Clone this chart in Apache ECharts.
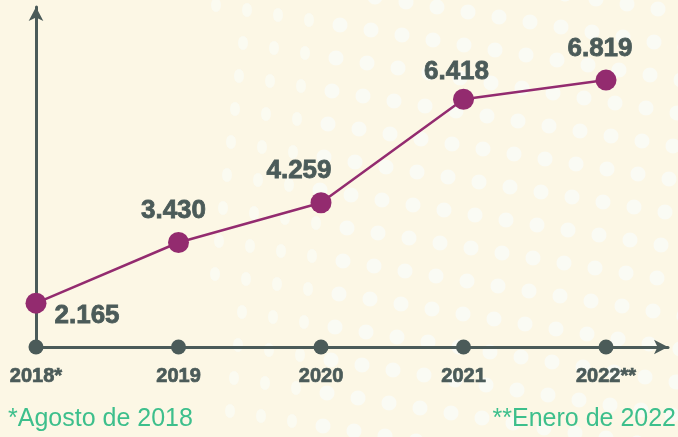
<!DOCTYPE html>
<html>
<head>
<meta charset="utf-8">
<script src="https://cdn.jsdelivr.net/npm/echarts@6/dist/echarts.min.js"></script>
<style>
	html, body { margin: 0; padding: 0; background: #fcf7e5; }
	#chart { width: 678px; height: 437px; }
</style>
</head>
<body>
<div id="chart"></div>
<script>
	var years = ['2018*', '2019', '2020', '2021', '2022**'];
	var values = [2.165, 3.430, 4.259, 6.418, 6.819];
	var labels = ['2.165', '3.430', '4.259', '6.418', '6.819'];
	var notes = ['*Agosto de 2018', '**Enero de 2022'];

	var axisColor = '#4b5b59';
	var lineColor = '#932b6f';
	var noteColor = '#3dbf8c';
	var yMin = 1.25;
	var font = 'Liberation Sans, Arial, sans-serif';

	// label placement for each point
	var labelStyle = [
		{ position: 'right', offset: [0, 13] },
		{ position: 'top', offset: [-5, 0] },
		{ position: 'top', offset: [-22, 0] },
		{ position: 'top', offset: [-7, 4] },
		{ position: 'top', offset: [-6, 0] }
	];

	var pointData = [];
	var baseData = [];
	for (var i = 0; i < values.length; i++) {
		pointData.push({
			value: [i, values[i]],
			label: labelStyle[i]
		});
		baseData.push([i, yMin]);
	}

	// decorative dot pattern (slightly rotated grid)
	var dots = [];
	for (var r = -2; r < 16; r++) {
		for (var c = 0; c < 18; c++) {
			var x = 220 + c * 31 - r * 4;
			var y = 12 + r * 33 + c * 5 - 40;
			if (x < 215 || x > 690 || y < -10 || y > 445) continue;
			var small = x < 320;
			dots.push({
				type: 'ellipse',
				silent: true,
				z: -10,
				shape: { cx: x, cy: y, rx: small ? 5 : 7.5, ry: small ? 7 : 7.5 },
				style: { fill: '#fafbf4', opacity: small ? 0.8 : 1 }
			});
		}
	}

	var chart = echarts.init(document.getElementById('chart'));
	chart.setOption({
		backgroundColor: '#fcf7e5',
		animation: false,
		grid: { left: 36, right: 10, top: 7, bottom: 90 },
		xAxis: {
			type: 'value',
			min: 0,
			max: 4.435,
			interval: 1,
			splitLine: { show: false },
			axisTick: { show: false },
			axisLine: {
				lineStyle: { color: axisColor, width: 3 },
				symbol: ['none', 'arrow'],
				symbolSize: [11, 14]
			},
			axisLabel: {
				margin: 19,
				color: axisColor,
				fontFamily: font,
				fontWeight: 'bold',
				fontSize: 20,
				textBorderColor: axisColor,
				textBorderWidth: 0.7,
				formatter: function (v) {
					return years[v] !== undefined ? years[v] : '';
				}
			}
		},
		yAxis: {
			type: 'value',
			min: yMin,
			max: 8.343,
			splitLine: { show: false },
			axisTick: { show: false },
			axisLabel: { show: false },
			axisLine: {
				show: true,
				lineStyle: { color: axisColor, width: 3 },
				symbol: ['none', 'arrow'],
				symbolSize: [11, 14]
			}
		},
		graphic: dots.concat([
			{
				type: 'text',
				left: 8,
				top: 407,
				style: {
					text: notes[0],
					fill: noteColor,
					font: '25px "Liberation Sans", Arial, sans-serif'
				}
			},
			{
				type: 'text',
				right: 2,
				top: 407,
				style: {
					text: notes[1],
					fill: noteColor,
					font: '25px "Liberation Sans", Arial, sans-serif'
				}
			}
		]),
		series: [
			{
				type: 'scatter',
				data: baseData,
				symbolSize: 15,
				itemStyle: { color: axisColor, opacity: 1 },
				clip: false,
				z: 3
			},
			{
				type: 'line',
				data: pointData,
				symbol: 'circle',
				symbolSize: 21,
				clip: false,
				z: 5,
				lineStyle: { color: lineColor, width: 2.5 },
				itemStyle: { color: lineColor },
				label: {
					show: true,
					distance: 8,
					color: axisColor,
					fontFamily: font,
					fontWeight: 'bold',
					fontSize: 26,
					textBorderColor: axisColor,
					textBorderWidth: 0.8,
					formatter: function (p) {
						return labels[p.dataIndex];
					}
				}
			}
		]
	});
</script>
</body>
</html>
